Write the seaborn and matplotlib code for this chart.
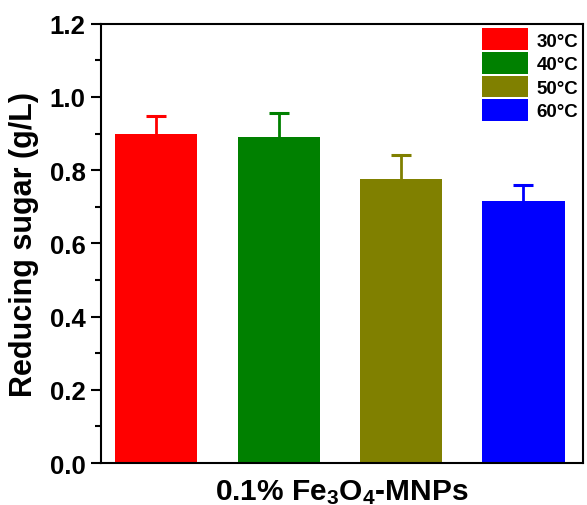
import matplotlib
matplotlib.use("Agg")
import matplotlib.pyplot as plt
import seaborn as sns
import pandas as pd
from matplotlib.ticker import MultipleLocator

# Reducing sugar yield at each incubation temperature
temperatures = ["30°C", "40°C", "50°C", "60°C"]
sugar = [0.900, 0.892, 0.777, 0.715]
sugar_err = [0.047, 0.063, 0.064, 0.045]
colors = ["#ff0000", "#008000", "#808000", "#0000ff"]

sns.set_theme(style="white", rc={
    "text.color": "black", "axes.labelcolor": "black",
    "xtick.color": "black", "ytick.color": "black",
    "axes.edgecolor": "black",
})
plt.rcParams["font.family"] = ["Liberation Sans", "DejaVu Sans"]
plt.rcParams["font.weight"] = "bold"
plt.rcParams["mathtext.fontset"] = "custom"
plt.rcParams["mathtext.rm"] = "Liberation Sans:bold"
plt.rcParams["mathtext.bf"] = "Liberation Sans:bold"
plt.rcParams["mathtext.default"] = "bf"

df = pd.DataFrame({"temp": temperatures, "sugar": sugar})

fig = plt.figure(figsize=(5.87, 5.06), dpi=100)
ax = fig.add_axes([0.172, 0.083, 0.821, 0.868])

sns.barplot(data=df, x="temp", y="sugar", hue="temp", palette=colors,
            saturation=1, width=0.67, errorbar=None, legend=True, ax=ax,
            edgecolor="none", linewidth=0, zorder=2)

# Upper-only error bars coloured like their bars
for patch, val, err, col in zip(ax.patches, sugar, sugar_err, colors):
    xc = patch.get_x() + patch.get_width() / 2
    _, caps, _ = ax.errorbar([xc], [val], yerr=[[0], [err]], fmt="none",
                             ecolor=col, elinewidth=2.0, capsize=7,
                             capthick=2.2, zorder=1)
    for cap in caps:
        if abs(cap.get_ydata()[0] - val) < 1e-9:
            cap.set_visible(False)

ax.set_xlim(-0.45, 3.485)
ax.set_ylim(0, 1.2)
ax.yaxis.set_major_locator(MultipleLocator(0.2))
ax.yaxis.set_minor_locator(MultipleLocator(0.1))
ax.tick_params(axis="y", which="major", direction="out", length=7, width=1.5,
               labelsize=18.5, left=True, pad=4, colors="black")
ax.tick_params(axis="y", which="minor", direction="out", length=4, width=1.5,
               left=True, colors="black")
ax.tick_params(axis="x", bottom=False, labelbottom=False)
for lab in ax.get_yticklabels():
    lab.set_fontweight("bold")

for sp in ax.spines.values():
    sp.set_visible(True)
    sp.set_color("black")
    sp.set_linewidth(1.5)

ax.set_ylabel("Reducing sugar (g/L)", fontsize=22, fontweight="bold",
              labelpad=8, color="black")
ax.set_xlabel(r"0.1% Fe$_3$O$_4$-MNPs", fontsize=21.5, fontweight="bold",
              labelpad=10, color="black")

leg = ax.legend(loc="upper right", frameon=False,
                prop={"weight": "bold", "size": 13.5},
                handlelength=2.45, handleheight=1.4, handletextpad=0.45,
                labelspacing=0.1, borderaxespad=0.05, borderpad=0.2)
for t in leg.get_texts():
    t.set_color("black")

fig.savefig("out.png", dpi=100)
